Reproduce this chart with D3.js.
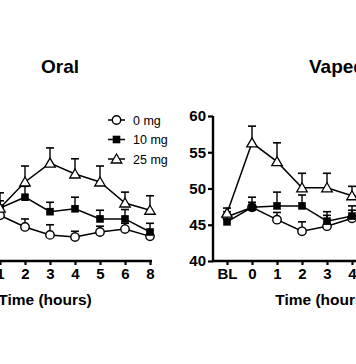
<!DOCTYPE html>
<html><head><meta charset="utf-8">
<script src="https://cdn.jsdelivr.net/npm/d3@7"></script>
<style>
html,body{margin:0;padding:0;background:#fff;overflow:hidden;}
svg{display:block;}
text{font-family:"Liberation Sans",Arial,sans-serif;}
</style></head>
<body>
<svg id="chart" width="356" height="364"></svg>
<script>
const categories = ["BL","0","1","2","3","4","5","6","8"];
const panelTitles = ["Oral","Vaped"];
const seriesNames = ["0 mg","10 mg","25 mg"];
const yTicks = [40,45,50,55,60];
const xTitle = "Time (hours)";

const oral0    = [46.2, 46.4, 46.3, 44.7, 43.6, 43.3, 44.0, 44.4, 43.4];
const oral0Err = [0.8, 0.8, 0.9, 1.1, 1.4, 0.8, 0.8, 0.8, 0.8];
const oral10    = [45.8, 46.5, 47.3, 48.8, 46.8, 47.2, 45.8, 45.8, 44.0];
const oral10Err = [1.0, 1.0, 1.0, 1.5, 1.3, 1.6, 1.2, 1.3, 1.2];
const oral25    = [46.0, 46.8, 47.3, 50.9, 53.5, 52.0, 50.9, 48.0, 47.0];
const oral25Err = [1.0, 1.2, 2.1, 2.2, 2.1, 2.1, 2.2, 1.5, 2.0];

const vape0    = [46.1, 47.4, 45.7, 44.1, 44.8, 45.9, 45.5, 45.3, 45.0];
const vape0Err = [0.7, 0.7, 1.0, 1.3, 1.5, 1.1, 1.0, 1.0, 1.0];
const vape10    = [45.4, 47.4, 47.6, 47.6, 45.5, 46.2, 46.0, 45.8, 45.5];
const vape10Err = [1.0, 1.4, 1.9, 1.5, 1.3, 1.4, 1.2, 1.2, 1.2];
const vape25    = [46.6, 56.3, 53.7, 50.1, 50.1, 49.0, 48.5, 48.0, 47.5];
const vape25Err = [0.7, 2.3, 2.6, 2.0, 2.0, 1.3, 1.5, 1.5, 1.5];

const svg = d3.select("#chart");
const y = d3.scaleLinear().domain([40,60]).range([261,116]);

const panels = [
  {title: panelTitles[0], axisX: -64, first: -50, series: [[oral0,oral0Err],[oral10,oral10Err],[oral25,oral25Err]]},
  {title: panelTitles[1], axisX: 213, first: 227, series: [[vape0,vape0Err],[vape10,vape10Err],[vape25,vape25Err]]}
];
const symbols = ["circle","square","triangle"];

function drawMarker(g, type, cx, cy) {
  if (type === "circle") {
    g.append("circle").attr("cx",cx).attr("cy",cy).attr("r",4.2)
      .attr("fill","#fff").attr("stroke","#000").attr("stroke-width",1.4);
  } else if (type === "square") {
    g.append("rect").attr("x",cx-3.8).attr("y",cy-3.8).attr("width",7.6).attr("height",7.6)
      .attr("fill","#000");
  } else {
    const s = 5;
    g.append("path").attr("d",`M${cx},${cy-s}L${cx+s*1.05},${cy+s*0.8}L${cx-s*1.05},${cy+s*0.8}Z`)
      .attr("fill","#fff").attr("stroke","#000").attr("stroke-width",1.3);
  }
}

panels.forEach(p => {
  const x = d3.scalePoint().domain(categories).range([p.first, p.first + 25*(categories.length-1)]);
  const g = svg.append("g");

  g.append("text").attr("x", (p.first + x("8"))/2 + 10).attr("y", 73)
    .attr("text-anchor","middle").attr("font-weight","bold").attr("font-size",19)
    .text(p.title);

  const ya = g.append("g").attr("transform",`translate(${p.axisX},0)`)
    .call(d3.axisLeft(y).tickValues(yTicks).tickSize(5).tickSizeOuter(0).tickPadding(2));
  ya.select(".domain").attr("stroke-width",2.4).attr("d",`M0,${y(60)}V${y(40)+1}`);
  ya.selectAll(".tick line").attr("stroke-width",2.2);
  if (p.axisX < 0) {
    ya.selectAll(".tick text").remove();
  } else {
    ya.selectAll(".tick text").attr("font-size",15).attr("font-weight","bold")
      .attr("font-family","Liberation Sans, Arial, sans-serif").attr("fill","#000");
  }

  const xa = g.append("g").attr("transform",`translate(0,${y(40)})`)
    .call(d3.axisBottom(x).tickSize(4).tickSizeOuter(0).tickPadding(3));
  xa.select(".domain").attr("stroke-width",2.4).attr("d",`M${p.axisX},0H${x("8")+2}`);
  xa.selectAll(".tick line").attr("stroke-width",2.2);
  xa.selectAll(".tick text").attr("font-size",15).attr("font-weight","bold")
    .attr("font-family","Liberation Sans, Arial, sans-serif").attr("fill","#000");
  // drop labels that lie wholly outside the picture
  xa.selectAll(".tick").filter(d => x(d) < -6).select("text").remove();

  g.append("text").attr("x", (p.first + x("8"))/2 - 5).attr("y", 305)
    .attr("text-anchor","middle").attr("font-weight","bold").attr("font-size",15.5)
    .text(xTitle);

  p.series.forEach((s, si) => {
    const vals = s[0], errs = s[1];
    const sg = g.append("g");
    categories.forEach((c, i) => {
      const cx = x(c), top = y(vals[i] + errs[i]);
      sg.append("line").attr("x1",cx).attr("x2",cx).attr("y1",y(vals[i])).attr("y2",top)
        .attr("stroke","#000").attr("stroke-width",1.4);
      sg.append("line").attr("x1",cx-4).attr("x2",cx+4).attr("y1",top).attr("y2",top)
        .attr("stroke","#000").attr("stroke-width",1.6);
    });
    const line = d3.line().x((d,i)=>x(categories[i])).y(d=>y(d));
    sg.append("path").attr("d", line(vals)).attr("fill","none")
      .attr("stroke","#000").attr("stroke-width",1.5);
    categories.forEach((c,i) => drawMarker(sg, symbols[si], x(c), y(vals[i])));
  });
});

const lg = svg.append("g");
seriesNames.forEach((name, i) => {
  const ly = 120 + i*19.5;
  lg.append("line").attr("x1",108).attr("x2",125).attr("y1",ly).attr("y2",ly)
    .attr("stroke","#000").attr("stroke-width",1.5);
  drawMarker(lg, symbols[i], 116.5, ly);
  lg.append("text").attr("x",133).attr("y",ly+4.5).attr("font-size",12.5).text(name);
});
</script>
</body></html>
